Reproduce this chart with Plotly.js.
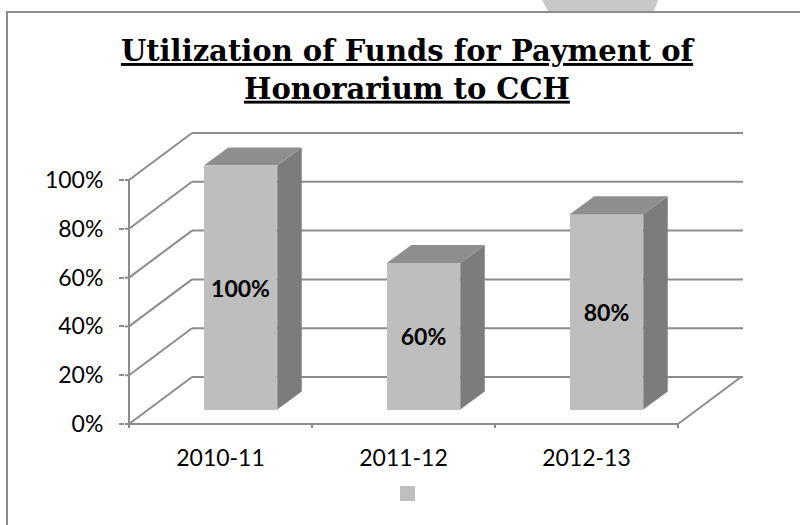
<!DOCTYPE html>
<html><head><meta charset="utf-8">
<script src="https://cdn.plot.ly/plotly-3.0.1.min.js"></script>
<style>html,body{margin:0;padding:0;background:#fff;overflow:hidden}#c{width:800px;height:525px}</style>
</head><body><div id="c"></div>
<script>
const categories = ['2010-11','2011-12','2012-13'];
const values = [100,60,80];
const yTicks = [0,20,40,60,80,100];

const W=800,H=525, m={l:125,r:53,t:128,b:97};
const PXX=183, PXY=2.44, PAD=4;
const dx=v=>v/PXX, dy=v=>v/PXY;
const xR=[0.5-dx(PAD), 0.5+dx(743-129+PAD)];
const yR=[-dy(PAD), dy(424-132+PAD)];
const paperX=p=>(p-m.l)/(W-m.l-m.r), paperY=p=>1-(p-m.t)/(H-m.t-m.b);

const wallX=dx(63), wallY=dy(47);
const barW=dx(73.5), barDX=dx(24.5), barDY=dy(18);
const barShiftX=dx(20), barBase=dy(14.5);
const grey='#8c8c8c';

const shapes=[];
function line(x0,y0,x1,y1,w){shapes.push({type:'line',xref:'x',yref:'y',x0,y0,x1,y1,layer:'below',line:{color:grey,width:w||2}});}
yTicks.forEach(t=>{
  line(0.5,t,0.5+wallX,t+wallY);
  line(0.5+wallX,t+wallY,xR[1]-dx(PAD),t+wallY);
  line(xR[0],t,0.5,t);
});
line(0.5,0,0.5,100);
line(0.5,0,3.5,0);
line(3.5,0,3.5+wallX,wallY);
[0.5,1.5,2.5,3.5].forEach(v=>line(v,0,v,yR[0]));
function pxRect(x0,y0,x1,y1,o){shapes.push(Object.assign({type:'rect',xref:'paper',yref:'paper',x0:paperX(x0),x1:paperX(x1),y0:paperY(y0),y1:paperY(y1),layer:'below'},o));}
pxRect(7,12,860,560,{line:{color:'#8c8c8c',width:2},fillcolor:'rgba(0,0,0,0)'});
pxRect(400,486,415,501,{line:{width:0},fillcolor:'#bfbfbf'});
shapes.push({type:'path',xref:'paper',yref:'paper',layer:'below',fillcolor:'#c8c8c8',line:{width:0},
  path:`M ${paperX(542)} ${paperY(0)} L ${paperX(658)} ${paperY(0)} L ${paperX(654)} ${paperY(11)} L ${paperX(548)} ${paperY(11)} Z`});

const cx=categories.map((c,i)=>i+1);
const bx=cx.map(c=>c+barShiftX);
const traces=[{
  type:'bar',x:bx,y:values,base:barBase,width:barW,
  marker:{color:'#bebebe',line:{width:0}},
  text:values.map(v=>v+'%'),textposition:'inside',insidetextanchor:'middle',textangle:0,
  insidetextfont:{family:'Lato, sans-serif',size:23,color:'#000',weight:700},
  hoverinfo:'x+y',showlegend:false
}];
values.forEach((v,i)=>{
  const l=bx[i]-barW/2,r=bx[i]+barW/2,b=barBase,t=barBase+v;
  traces.push({type:'scatter',mode:'lines',x:[r,r+barDX,r+barDX,r,r],y:[b,b+barDY,t+barDY,t,b],fill:'toself',fillcolor:'#7c7c7c',line:{width:0},hoverinfo:'skip',showlegend:false});
  traces.push({type:'scatter',mode:'lines',x:[l,l+barDX,r+barDX,r,l],y:[t,t+barDY,t+barDY,t,t],fill:'toself',fillcolor:'#8e8e8e',line:{width:0},hoverinfo:'skip',showlegend:false});
});
const tickFont={family:'Lato, sans-serif',size:23,color:'#000'};
Plotly.newPlot('c',traces,{
  width:W,height:H,margin:m,paper_bgcolor:'rgba(0,0,0,0)',plot_bgcolor:'rgba(0,0,0,0)',showlegend:false,bargap:0,
  title:{text:'<b><u>Utilization of Funds for Payment of</u></b><br><b><u>Honorarium to CCH</u></b>',
    font:{family:'DejaVu Serif, serif',size:29,color:'#000'},x:407/W,xanchor:'center',y:1-61/H,yanchor:'top',xref:'container',yref:'container'},
  xaxis:{range:xR,tickmode:'array',tickvals:cx,ticktext:categories,ticks:'',showgrid:false,zeroline:false,showline:false,tickfont:tickFont,
    automargin:false,ticklabelstandoff:14},
  yaxis:{range:yR,tickmode:'array',tickvals:yTicks,ticktext:yTicks.map(v=>v+'%'),ticks:'outside',ticklen:5,tickwidth:2,tickcolor:grey,showgrid:false,zeroline:false,showline:false,tickfont:tickFont,automargin:false,ticklabelstandoff:11},
  shapes
},{displayModeBar:false,staticPlot:true});
</script></body></html>
